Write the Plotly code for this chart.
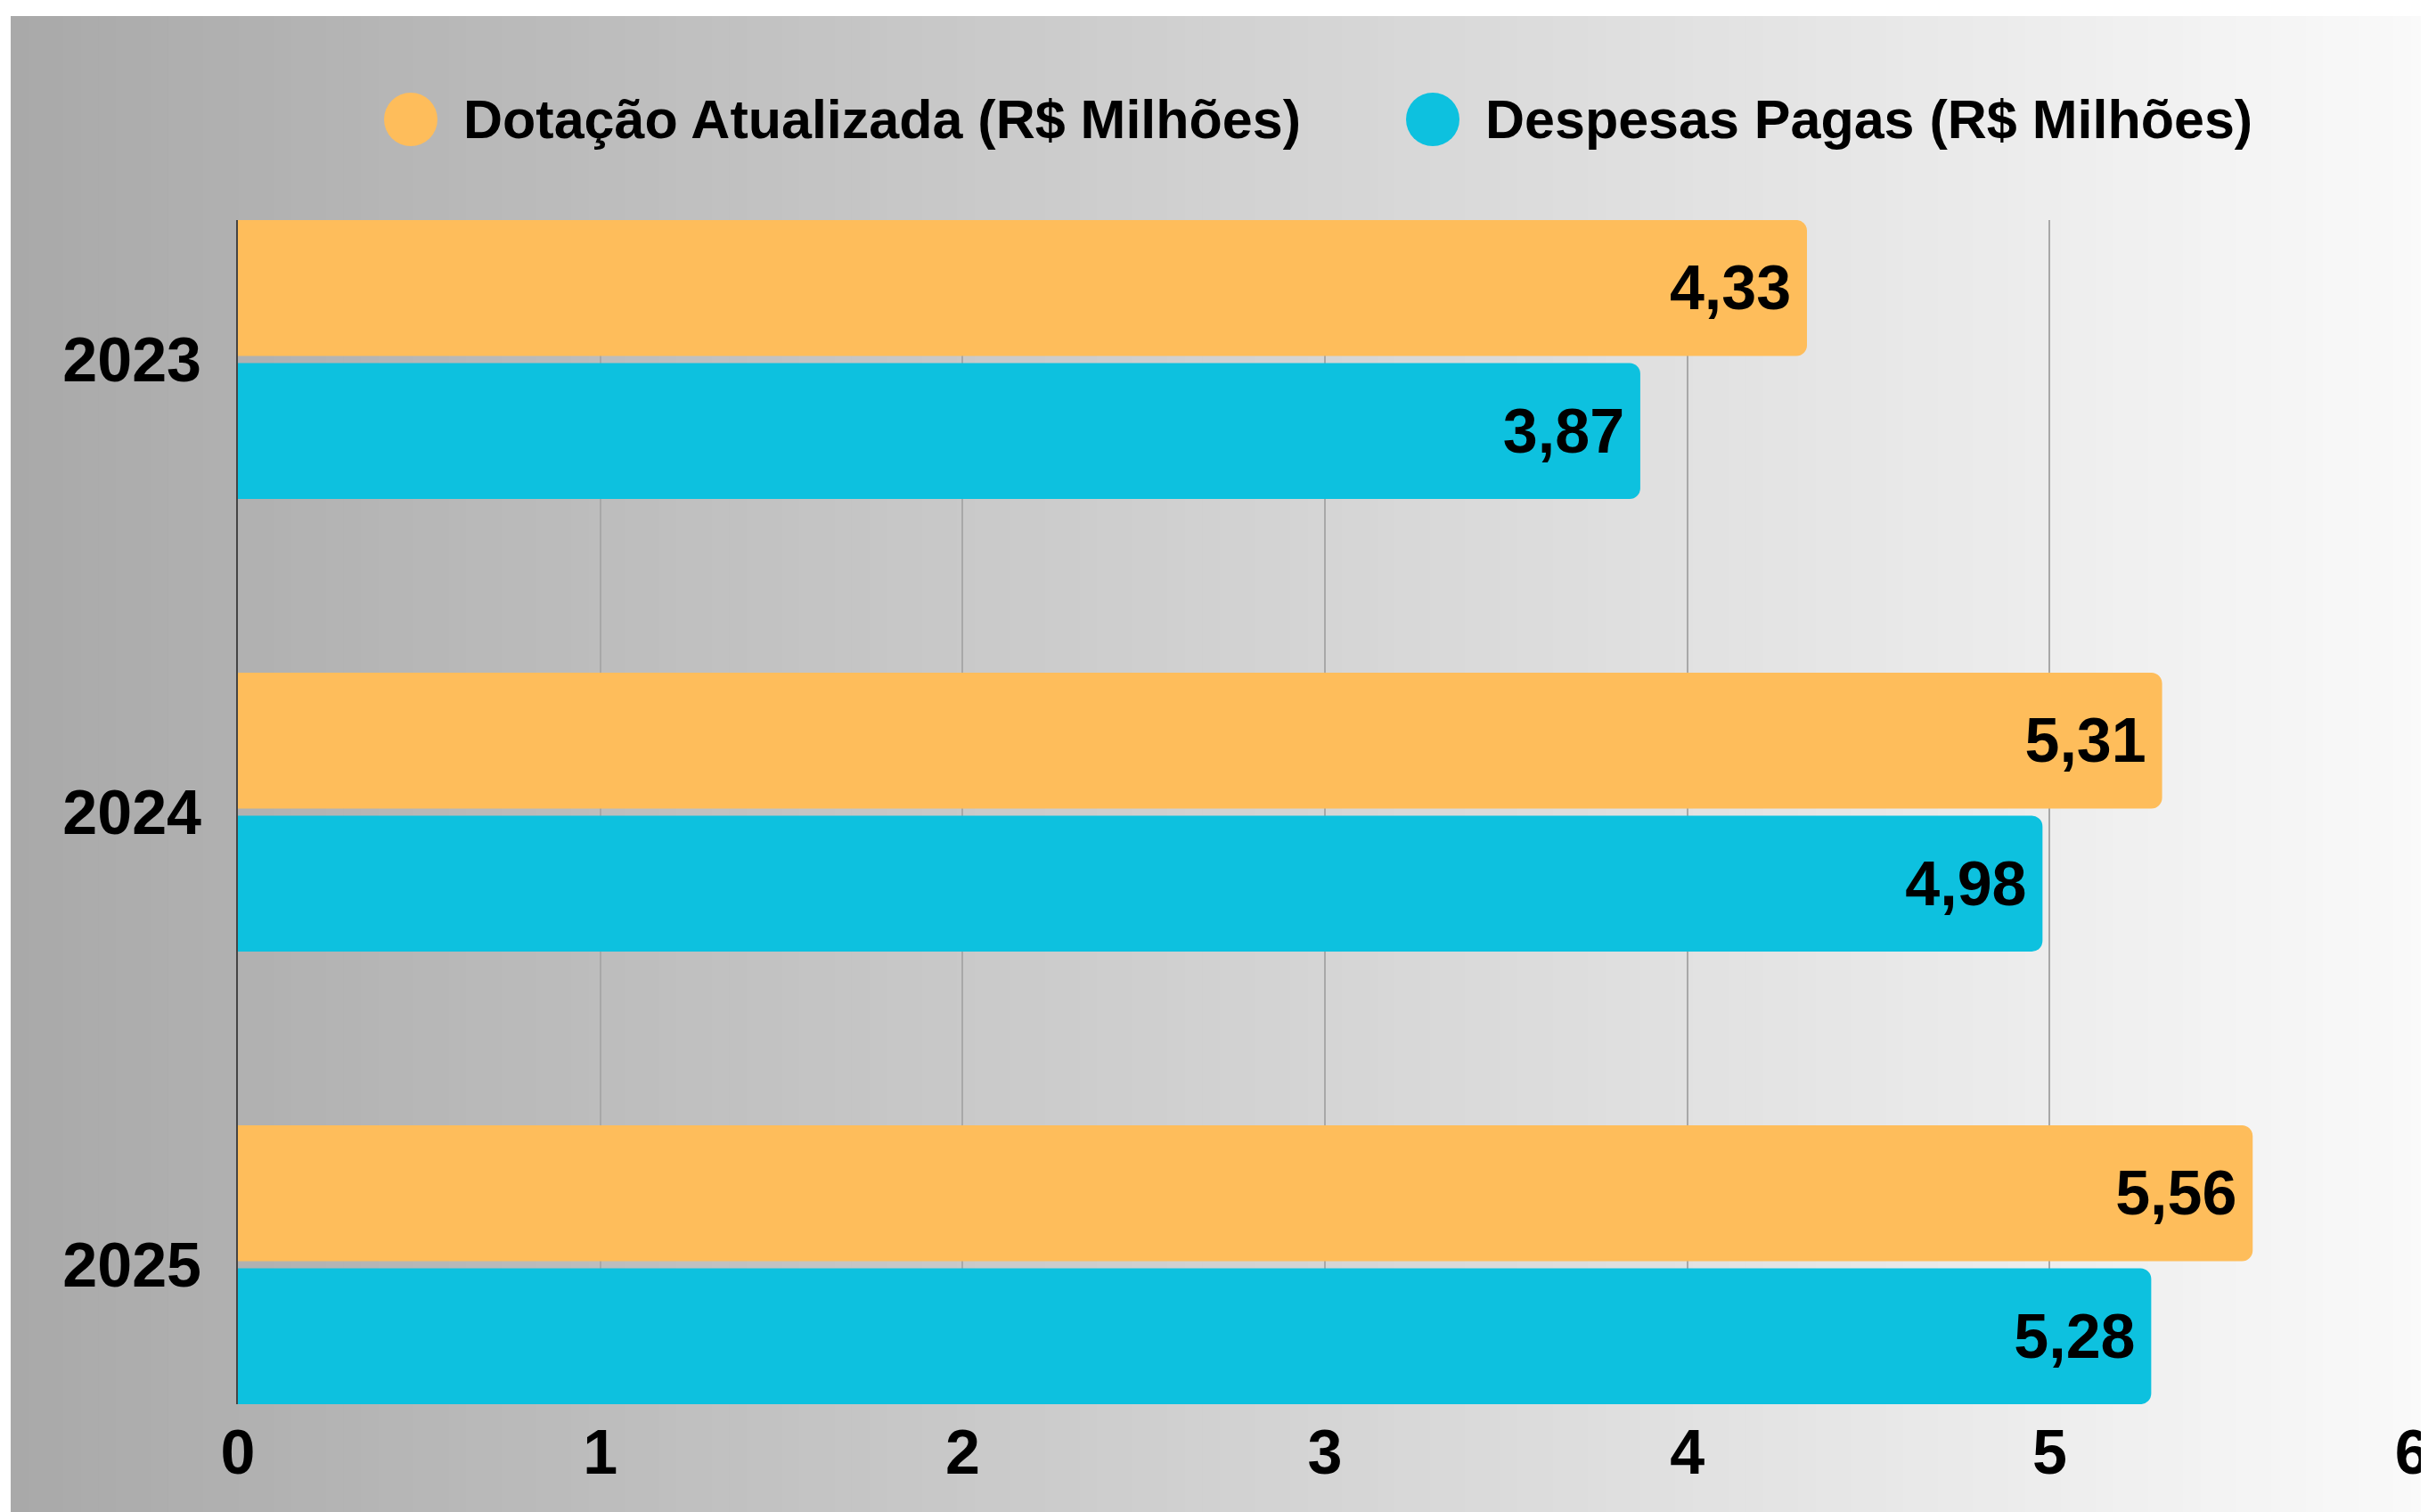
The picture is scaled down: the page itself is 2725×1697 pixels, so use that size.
import plotly.graph_objects as go

years = ["2023", "2024", "2025"]
dotacao = [4.33, 5.31, 5.56]
despesas = [3.87, 4.98, 5.28]
series_names = ["Dotação Atualizada (R$ Milhões)", "Despesas Pagas (R$ Milhões)"]
x_ticks = [0, 1, 2, 3, 4, 5, 6]

ORANGE = "#FEBD5B"
CYAN = "#0DC1DF"
W, H = 2745, 1697
OFF = 8  # page body margin
ML, MT = 267 - OFF, 247 - OFF
MR = W - (2708 - OFF)
MB = H - (1576 - OFF)
PW, PH = W - ML - MR, H - MT - MB
FONT = "Liberation Sans"


def px_x(px):
    # px in screen coordinates
    return (px - OFF - ML) / PW


def px_y(py):
    return 1 + (MT - (py - OFF)) / PH


fig = go.Figure()
for name, vals, col in [(series_names[0], dotacao, ORANGE), (series_names[1], despesas, CYAN)]:
    fig.add_trace(go.Bar(
        y=years, x=vals, name=name, orientation="h",
        marker=dict(color=col, line=dict(width=0), cornerradius=12),
        texttemplate="%{x:.2f}\u200a", textposition="inside", insidetextanchor="end",
        textfont=dict(family=FONT, size=70, color="black", weight="bold"),
        constraintext="none", showlegend=False,
    ))

# background gradient strips
shapes = []
N = 140
x_left, x_right = 12, W + 20
c0, c1 = (169, 169, 169), (251, 251, 251)
for i in range(N):
    a = x_left + (x_right - x_left) * i / N
    b = x_left + (x_right - x_left) * (i + 1) / N + 1
    t = (i + 0.5) / N
    c = tuple(round(c0[k] + (c1[k] - c0[k]) * t) for k in range(3))
    shapes.append(dict(type="rect", xref="paper", yref="paper", layer="below",
                       x0=px_x(a), x1=px_x(b), y0=px_y(H + 20), y1=px_y(18),
                       fillcolor="rgb(%d,%d,%d)" % c, line=dict(width=0)))

# custom legend
annotations = []
for name, col, cx, tx in [(series_names[0], ORANGE, 461, 518), (series_names[1], CYAN, 1608, 1665)]:
    shapes.append(dict(type="circle", xref="paper", yref="paper",
                       xsizemode="pixel", ysizemode="pixel",
                       xanchor=px_x(cx), yanchor=px_y(134),
                       x0=-30, x1=30, y0=-30, y1=30,
                       fillcolor=col, line=dict(width=0), layer="above"))
    annotations.append(dict(xref="paper", yref="paper", x=px_x(tx), y=px_y(134),
                            xanchor="left", yanchor="middle", showarrow=False,
                            text=name, font=dict(family=FONT, size=61, color="black", weight="bold")))

fig.update_layout(
    width=W, height=H,
    margin=dict(l=ML, r=MR, t=MT, b=MB, pad=0),
    paper_bgcolor="white", plot_bgcolor="rgba(0,0,0,0)",
    barmode="group", bargap=0.368, bargroupgap=0.05,
    separators=",.",
    shapes=shapes, annotations=annotations,
    showlegend=False,
    xaxis=dict(range=[0, 6.002], tickvals=x_ticks, showgrid=True, gridcolor="#a8a8a8", gridwidth=1.5,
               zeroline=False, showline=False, ticks="", ticklabelstandoff=7,
               tickfont=dict(family=FONT, size=70, color="black", weight="bold")),
    yaxis=dict(type="category", categoryorder="array", categoryarray=years,
               range=[2.308, -0.308], showgrid=False, zeroline=False,
               showline=True, linecolor="#444444", linewidth=2, layer="below traces",
               ticks="", ticklabelstandoff=25,
               tickfont=dict(family=FONT, size=70, color="black", weight="bold")),
)

fig.write_html("out.html")
